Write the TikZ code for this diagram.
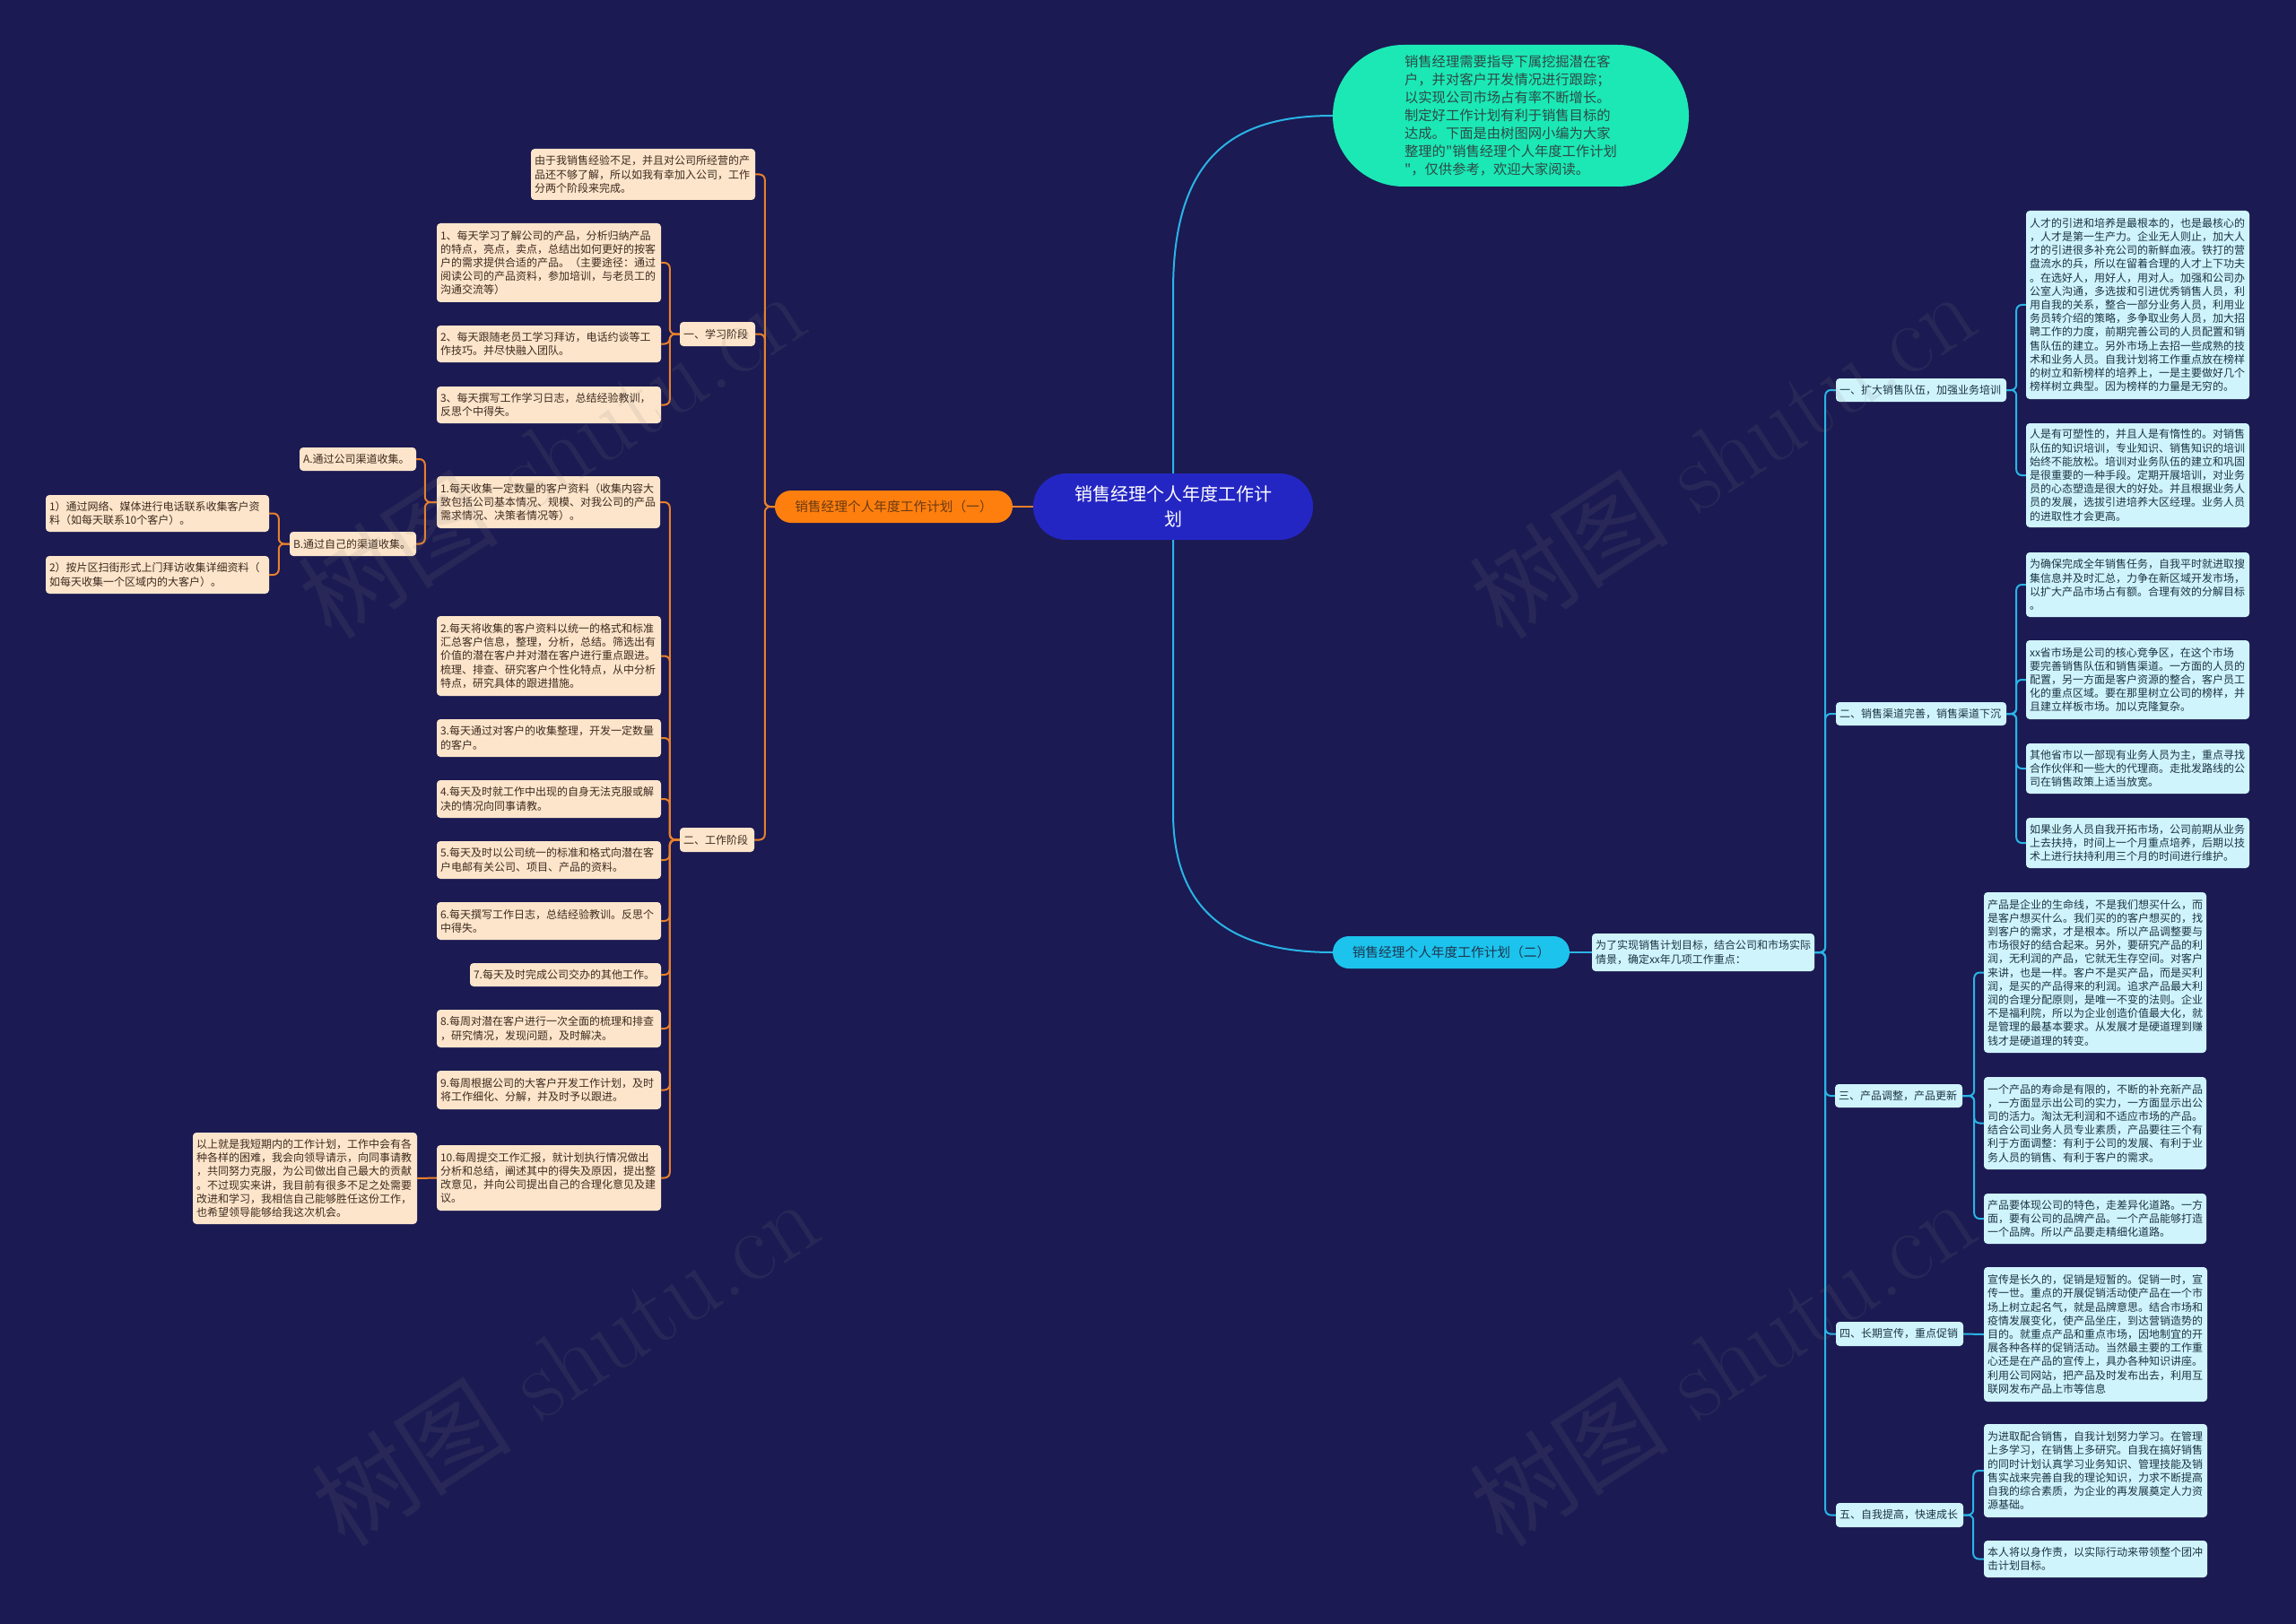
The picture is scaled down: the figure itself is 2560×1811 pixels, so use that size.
\documentclass[tikz,border=0pt]{standalone}
\usepackage{fontspec}
\newfontfamily\cjk{Noto Sans CJK SC}
\definecolor{bg}{HTML}{1B1A52}
\definecolor{peach}{HTML}{FDE5CB}
\definecolor{ptext}{HTML}{3D2B1F}
\definecolor{lcyan}{HTML}{D0F4FC}
\definecolor{ctext}{HTML}{1C3444}
\definecolor{ocol}{HTML}{E8802C}
\definecolor{ofill}{HTML}{FF7F0E}
\definecolor{otext}{HTML}{6B3A12}
\definecolor{ccol}{HTML}{2AB4E6}
\definecolor{cfill}{HTML}{1CC3EC}
\definecolor{cltext}{HTML}{1E3550}
\definecolor{cfill2}{HTML}{2426C4}
\definecolor{gfill}{HTML}{1BE8B5}
\definecolor{gtext}{HTML}{2E4A46}
\tikzset{
 base/.style={inner xsep=4pt, inner ysep=3pt, font=\cjk\fontsize{12}{15.2}\selectfont},
 pb/.style={base, fill=peach, text=ptext, rounded corners=4pt, align=left},
 cb/.style={base, fill=lcyan, text=ctext, rounded corners=4pt, align=left},
 ol/.style={inner xsep=4pt, inner ysep=3pt, fill=ofill, text=otext, rounded corners=18pt, align=center, font=\cjk\fontsize{14.7}{18}\selectfont},
 cl/.style={inner xsep=4pt, inner ysep=3pt, fill=cfill, text=cltext, rounded corners=18pt, align=center, font=\cjk\fontsize{14.7}{18}\selectfont},
 oc/.style={draw=ocol, line width=2pt, rounded corners=6pt},
 cc/.style={draw=ccol, line width=2pt, rounded corners=6pt},
 wm/.style={rotate=33, text=gray, opacity=0.13, font=\fontsize{112}{112}\selectfont},
}
\newcommand\mybox[7]{%
 \pgfmathsetmacro\bw{#5-#3}\pgfmathsetmacro\bh{#6-#4}%
 \pgfmathsetmacro\bx{(#3+#5)/2}\pgfmathsetmacro\by{(#4+#6)/2}%
 \pgfmathsetmacro\tw{#5-#3-8}%
 \node[#2,minimum width=\bw pt,minimum height=\bh pt,text width=\tw pt] (#1) at (\bx,\by) {#7};}
\begin{document}
\begin{tikzpicture}[x=1pt,y=-1pt]
\fill[bg] (0,0) rectangle (2560,1811);
\useasboundingbox (0,0) rectangle (2560,1811);
% center
\node[fill=cfill2, text=white, rounded corners=37pt, minimum width=312pt, minimum height=74pt, align=center, font=\cjk\fontsize{20}{28}\selectfont] (root) at (1308,565) {销售经理个人年度工作计\\划};
% green
\node[fill=gfill, text=gtext, rounded corners=79pt, minimum width=397pt, minimum height=158pt, align=left, font=\cjk\fontsize{15.3}{20}\selectfont] (intro2) at (1684.5,129) {销售经理需要指导下属挖掘潜在客\\户，并对客户开发情况进行跟踪；\\以实现公司市场占有率不断增长。\\制定好工作计划有利于销售目标的\\达成。下面是由树图网小编为大家\\整理的"销售经理个人年度工作计划\\"，仅供参考，欢迎大家阅读。};
% left
\mybox{ol1}{ol}{864}{547}{1129}{583}{销售经理个人年度工作计划（一）}
\mybox{intro}{pb}{592}{166}{842}{223}{由于我销售经验不足，并且对公司所经营的产\\品还不够了解，所以如我有幸加入公司，工作\\分两个阶段来完成。}
\mybox{learn}{pb}{758}{359}{842}{386}{一、学习阶段}
\mybox{l1}{pb}{487}{249}{737}{337}{1、每天学习了解公司的产品，分析归纳产品\\的特点，亮点，卖点，总结出如何更好的按客\\户的需求提供合适的产品。（主要途径：通过\\阅读公司的产品资料，参加培训，与老员工的\\沟通交流等）}
\mybox{l2}{pb}{487}{363}{737}{404}{2、每天跟随老员工学习拜访，电话约谈等工\\作技巧。并尽快融入团队。}
\mybox{l3}{pb}{487}{431}{737}{472}{3、每天撰写工作学习日志，总结经验教训，\\反思个中得失。}
\mybox{work}{pb}{758}{923}{841}{950}{二、工作阶段}
\mybox{w1}{pb}{487}{531}{736}{589}{1.每天收集一定数量的客户资料（收集内容大\\致包括公司基本情况、规模、对我公司的产品\\需求情况、决策者情况等）。}
\mybox{wa}{pb}{334}{499}{464}{525}{A.通过公司渠道收集。}
\mybox{wb}{pb}{323}{593}{464}{620}{B.通过自己的渠道收集。}
\mybox{wb1}{pb}{51}{552}{300}{593}{1）通过网络、媒体进行电话联系收集客户资\\料（如每天联系10个客户）。}
\mybox{wb2}{pb}{51}{620}{300}{662}{2）按片区扫街形式上门拜访收集详细资料（\\如每天收集一个区域内的大客户）。}
\mybox{w2}{pb}{487}{687}{737}{776}{2.每天将收集的客户资料以统一的格式和标准\\汇总客户信息，整理，分析，总结。筛选出有\\价值的潜在客户并对潜在客户进行重点跟进。\\梳理、排查、研究客户个性化特点，从中分析\\特点，研究具体的跟进措施。}
\mybox{w3}{pb}{487}{802}{737}{844}{3.每天通过对客户的收集整理，开发一定数量\\的客户。}
\mybox{w4}{pb}{487}{870}{737}{912}{4.每天及时就工作中出现的自身无法克服或解\\决的情况向同事请教。}
\mybox{w5}{pb}{487}{938}{737}{980}{5.每天及时以公司统一的标准和格式向潜在客\\户电邮有关公司、项目、产品的资料。}
\mybox{w6}{pb}{487}{1006}{737}{1048}{6.每天撰写工作日志，总结经验教训。反思个\\中得失。}
\mybox{w7}{pb}{524}{1074}{737}{1100}{7.每天及时完成公司交办的其他工作。}
\mybox{w8}{pb}{487}{1126}{737}{1168}{8.每周对潜在客户进行一次全面的梳理和排查\\，研究情况，发现问题，及时解决。}
\mybox{w9}{pb}{487}{1194}{737}{1237}{9.每周根据公司的大客户开发工作计划，及时\\将工作细化、分解，并及时予以跟进。}
\mybox{w10}{pb}{487}{1277}{737}{1350}{10.每周提交工作汇报，就计划执行情况做出\\分析和总结，阐述其中的得失及原因，提出整\\改意见，并向公司提出自己的合理化意见及建\\议。}
\mybox{fin}{pb}{215}{1263}{465}{1365}{以上就是我短期内的工作计划，工作中会有各\\种各样的困难，我会向领导请示，向同事请教\\，共同努力克服，为公司做出自己最大的贡献\\。不过现实来讲，我目前有很多不足之处需要\\改进和学习，我相信自己能够胜任这份工作，\\也希望领导能够给我这次机会。}
% right
\mybox{cl1}{cl}{1486}{1044}{1750}{1080}{销售经理个人年度工作计划（二）}
\mybox{cl1c}{cb}{1775}{1041}{2023}{1083}{为了实现销售计划目标，结合公司和市场实际\\情景，确定xx年几项工作重点：}
\mybox{r1}{cb}{2047}{422}{2237}{448}{一、扩大销售队伍，加强业务培训}
\mybox{r1a}{cb}{2259}{235}{2508}{445}{人才的引进和培养是最根本的，也是最核心的\\，人才是第一生产力。企业无人则止，加大人\\才的引进很多补充公司的新鲜血液。铁打的营\\盘流水的兵，所以在留着合理的人才上下功夫\\。在选好人，用好人，用对人。加强和公司办\\公室人沟通，多选拔和引进优秀销售人员，利\\用自我的关系，整合一部分业务人员，利用业\\务员转介绍的策略，多争取业务人员，加大招\\聘工作的力度，前期完善公司的人员配置和销\\售队伍的建立。另外市场上去招一些成熟的技\\术和业务人员。自我计划将工作重点放在榜样\\的树立和新榜样的培养上，一是主要做好几个\\榜样树立典型。因为榜样的力量是无穷的。}
\mybox{r1b}{cb}{2259}{472}{2508}{588}{人是有可塑性的，并且人是有惰性的。对销售\\队伍的知识培训，专业知识、销售知识的培训\\始终不能放松。培训对业务队伍的建立和巩固\\是很重要的一种手段。定期开展培训，对业务\\员的心态塑造是很大的好处。并且根据业务人\\员的发展，选拔引进培养大区经理。业务人员\\的进取性才会更高。}
\mybox{r2}{cb}{2047}{783}{2237}{809}{二、销售渠道完善，销售渠道下沉}
\mybox{r2a}{cb}{2259}{616}{2508}{688}{为确保完成全年销售任务，自我平时就进取搜\\集信息并及时汇总，力争在新区域开发市场，\\以扩大产品市场占有额。合理有效的分解目标\\。}
\mybox{r2b}{cb}{2259}{714}{2508}{802}{xx省市场是公司的核心竞争区，在这个市场\\要完善销售队伍和销售渠道。一方面的人员的\\配置，另一方面是客户资源的整合，客户员工\\化的重点区域。要在那里树立公司的榜样，并\\且建立样板市场。加以克隆复杂。}
\mybox{r2c}{cb}{2259}{829}{2508}{885}{其他省市以一部现有业务人员为主，重点寻找\\合作伙伴和一些大的代理商。走批发路线的公\\司在销售政策上适当放宽。}
\mybox{r2d}{cb}{2259}{912}{2508}{968}{如果业务人员自我开拓市场，公司前期从业务\\上去扶持，时间上一个月重点培养，后期以技\\术上进行扶持利用三个月的时间进行维护。}
\mybox{r3}{cb}{2046}{1209}{2188}{1235}{三、产品调整，产品更新}
\mybox{r3a}{cb}{2212}{995}{2460}{1174}{产品是企业的生命线，不是我们想买什么，而\\是客户想买什么。我们买的的客户想买的，找\\到客户的需求，才是根本。所以产品调整要与\\市场很好的结合起来。另外，要研究产品的利\\润，无利润的产品，它就无生存空间。对客户\\来讲，也是一样。客户不是买产品，而是买利\\润，是买的产品得来的利润。追求产品最大利\\润的合理分配原则，是唯一不变的法则。企业\\不是福利院，所以为企业创造价值最大化，就\\是管理的最基本要求。从发展才是硬道理到赚\\钱才是硬道理的转变。}
\mybox{r3b}{cb}{2212}{1201}{2460}{1304}{一个产品的寿命是有限的，不断的补充新产品\\，一方面显示出公司的实力，一方面显示出公\\司的活力。淘汰无利润和不适应市场的产品。\\结合公司业务人员专业素质，产品要往三个有\\利于方面调整：有利于公司的发展、有利于业\\务人员的销售、有利于客户的需求。}
\mybox{r3c}{cb}{2212}{1331}{2460}{1387}{产品要体现公司的特色，走差异化道路。一方\\面，要有公司的品牌产品。一个产品能够打造\\一个品牌。所以产品要走精细化道路。}
\mybox{r4}{cb}{2047}{1474}{2189}{1501}{四、长期宣传，重点促销}
\mybox{r4a}{cb}{2212}{1413}{2461}{1563}{宣传是长久的，促销是短暂的。促销一时，宣\\传一世。重点的开展促销活动使产品在一个市\\场上树立起名气，就是品牌意思。结合市场和\\疫情发展变化，使产品坐庄，到达营销造势的\\目的。就重点产品和重点市场，因地制宜的开\\展各种各样的促销活动。当然最主要的工作重\\心还是在产品的宣传上，具办各种知识讲座。\\利用公司网站，把产品及时发布出去，利用互\\联网发布产品上市等信息}
\mybox{r5}{cb}{2047}{1676}{2189}{1703}{五、自我提高，快速成长}
\mybox{r5a}{cb}{2212}{1588}{2461}{1692}{为进取配合销售，自我计划努力学习。在管理\\上多学习，在销售上多研究。自我在搞好销售\\的同时计划认真学习业务知识、管理技能及销\\售实战来完善自我的理论知识，力求不断提高\\自我的综合素质，为企业的再发展奠定人力资\\源基础。}
\mybox{r5b}{cb}{2212}{1718}{2461}{1759}{本人将以身作责，以实际行动来带领整个团冲\\击计划目标。}
% connectors left
\draw[oc] (root.west) -- (ol1.east);
\foreach \nm in {intro,learn,work} \draw[oc] (ol1.west) -- ++(-11,0) |- (\nm.east);
\foreach \nm in {l1,l2,l3} \draw[oc] (learn.west) -- ++(-11,0) |- (\nm.east);
\foreach \nm in {w1,w2,w3,w4,w5,w6,w7,w8,w9,w10} \draw[oc] (work.west) -- ++(-11,0) |- (\nm.east);
\foreach \nm in {wa,wb} \draw[oc] (w1.west) -- ++(-13,0) |- (\nm.east);
\foreach \nm in {wb1,wb2} \draw[oc] (wb.west) -- ++(-12,0) |- (\nm.east);
\draw[oc] (w10.west) -- (fin.east);
% connectors right
\draw[cc] (root.north) -- (1308,330) .. controls (1308,170) and (1380,129) .. (intro2.west);
\draw[cc] (root.south) -- (1308,900) .. controls (1308,1030) and (1390,1062) .. (cl1.west);
\draw[cc] (cl1.east) -- (cl1c.west);
\foreach \nm in {r1,r2,r3,r4,r5} \draw[cc] (cl1c.east) -- ++(12,0) |- (\nm.west);
\foreach \nm in {r1a,r1b} \draw[cc] (r1.east) -- ++(11,0) |- (\nm.west);
\foreach \nm in {r2a,r2b,r2c,r2d} \draw[cc] (r2.east) -- ++(11,0) |- (\nm.west);
\foreach \nm in {r3a,r3b,r3c} \draw[cc] (r3.east) -- ++(13,0) |- (\nm.west);
\draw[cc] (r4.east) -- (r4a.west);
\foreach \nm in {r5a,r5b} \draw[cc] (r5.east) -- ++(11,0) |- (\nm.west);
% watermarks
\node[wm] (wm1) at (615,506) {{\cjk 树图} shutu.cn};
\node[wm] (wm2) at (630,1518) {{\cjk 树图} shutu.cn};
\node[wm] (wm3) at (1920,506) {{\cjk 树图} shutu.cn};
\node[wm] (wm4) at (1920,1518) {{\cjk 树图} shutu.cn};
\end{tikzpicture}
\end{document}
